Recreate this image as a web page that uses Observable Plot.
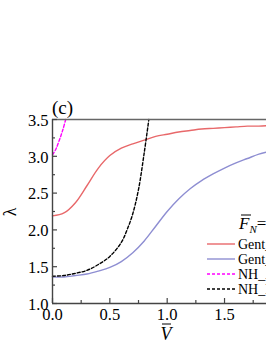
<!DOCTYPE html>
<html><head><meta charset="utf-8">
<script src="https://cdn.jsdelivr.net/npm/d3@7"></script>
<script src="https://cdn.jsdelivr.net/npm/@observablehq/plot@0.6"></script>
<style>
html,body{margin:0;padding:0;overflow:hidden;background:#fff;}
#chart{width:266px;height:344px;overflow:hidden;position:relative;}
</style>
</head><body><div id="chart"></div>
<script>
// Data
const gentAV = [0, 0.1, 0.2, 0.3, 0.4, 0.5, 0.6, 0.7, 0.8, 0.9, 1.0, 1.1, 1.2, 1.3, 1.4, 1.5, 1.6, 1.7, 1.8, 1.9];
const gentAL = [2.19, 2.23, 2.37, 2.60, 2.84, 3.01, 3.11, 3.17, 3.22, 3.27, 3.30, 3.33, 3.35, 3.37, 3.38, 3.39, 3.40, 3.41, 3.41, 3.42];
const gentBV = [0, 0.1, 0.2, 0.3, 0.4, 0.5, 0.6, 0.7, 0.8, 0.9, 1.0, 1.1, 1.2, 1.3, 1.4, 1.5, 1.6, 1.7, 1.8, 1.9];
const gentBL = [1.36, 1.36, 1.38, 1.40, 1.44, 1.49, 1.57, 1.69, 1.85, 2.05, 2.25, 2.42, 2.56, 2.67, 2.76, 2.84, 2.91, 2.97, 3.03, 3.07];
const nhAV = [0, 0.03, 0.06, 0.09, 0.115];
const nhAL = [3.02, 3.10, 3.22, 3.36, 3.5];
const nhBV = [0, 0.1, 0.2, 0.3, 0.4, 0.5, 0.6, 0.65, 0.7, 0.75, 0.8, 0.84];
const nhBL = [1.37, 1.38, 1.41, 1.45, 1.53, 1.64, 1.83, 2.0, 2.22, 2.55, 3.05, 3.5];
const seriesNames = ["Gent_", "Gent_", "NH_A", "NH_B"];
const seriesColors = ["#e8686a", "#8e8ed2", "#ff00ff", "#000000"];
const seriesDash = [null, null, "3,2", "3,2"];
const xMajor = [0, 0.5, 1.0, 1.5];
const xMinor = [0.25, 0.75, 1.25, 1.75];
const yMajor = [1.0, 1.5, 2.0, 2.5, 3.0, 3.5];
const yMinor = [1.25, 1.75, 2.25, 2.75, 3.25];

const mk = (xs, ys) => xs.map((x, i) => ({x, y: ys[i]}));
const series = [mk(gentAV, gentAL), mk(gentBV, gentBL), mk(nhAV, nhAL), mk(nhBV, nhBL)];

const W = 266, H = 344, mL = 52, mT = 119, mB = 41, mR = 0;
const fw = W - mL - mR, fh = H - mT - mB;
const axisColor = "#444";
const font = "Liberation Serif";

const plot = Plot.plot({
  width: W, height: H,
  marginLeft: mL, marginTop: mT, marginBottom: mB, marginRight: mR,
  x: {domain: [0, 1.866], axis: null},
  y: {domain: [1, 3.5], axis: null},
  style: {fontFamily: font, fontSize: "16px", background: "white", color: "black"},
  marks: [
    ...series.map((s, i) => Plot.line(s, {x: "x", y: "y", stroke: seriesColors[i], strokeWidth: 1.4, strokeDasharray: seriesDash[i], curve: "catmull-rom"})),
    Plot.ruleY([3.5], {stroke: "#666", strokeWidth: 1.3}),
    Plot.ruleY([1], {stroke: axisColor, strokeWidth: 1.4}),
    Plot.ruleX([0], {stroke: axisColor, strokeWidth: 1.4}),
    Plot.tickX(xMajor, {x: d => d, insetTop: fh - 5, stroke: axisColor, strokeWidth: 1.2}),
    Plot.tickX(xMinor, {x: d => d, insetTop: fh - 3, stroke: axisColor, strokeWidth: 1.2}),
    Plot.tickY(yMajor, {y: d => d, insetRight: fw - 5, stroke: axisColor, strokeWidth: 1.2}),
    Plot.tickY(yMinor, {y: d => d, insetRight: fw - 3, stroke: axisColor, strokeWidth: 1.2}),
    Plot.text(xMajor, {x: d => d, frameAnchor: "bottom", dy: 5, text: d => d.toFixed(1), fontSize: 16.5, fontFamily: font, lineAnchor: "top"}),
    Plot.text(yMajor, {y: d => d, frameAnchor: "left", dx: -4, dy: 1, text: d => d.toFixed(1), fontSize: 16.5, fontFamily: font, textAnchor: "end"})
  ]
});
document.getElementById("chart").appendChild(plot);

const svg = d3.select(plot);
// panel label
svg.append("text").attr("x", 52).attr("y", 114).attr("text-anchor", "start")
  .attr("font-family", font).attr("font-size", 19).text("(c)");
// y label
svg.append("text").attr("transform", "translate(16,212) rotate(-90)").attr("text-anchor", "middle")
  .attr("font-family", font).attr("font-size", 18).text("λ");
// x label with overbar
svg.append("text").attr("x", 166).attr("y", 340).attr("text-anchor", "middle")
  .attr("font-family", font).attr("font-size", 18).attr("font-style", "italic").text("V");
svg.append("line").attr("x1", 162).attr("x2", 171).attr("y1", 324).attr("y2", 324).attr("stroke", "black").attr("stroke-width", 1);
// legend title with overbar
const lt = svg.append("text").attr("x", 239).attr("y", 229).attr("text-anchor", "start")
  .attr("font-family", font).attr("font-size", 17);
lt.append("tspan").attr("font-style", "italic").text("F");
lt.append("tspan").attr("font-style", "italic").attr("font-size", 11).attr("dy", 4).text("N");
lt.append("tspan").attr("dy", -4).text("=");
svg.append("line").attr("x1", 241).attr("x2", 251).attr("y1", 215).attr("y2", 215).attr("stroke", "black").attr("stroke-width", 1);
// legend rows
const rowY = [244, 259, 274, 289];
seriesNames.forEach((name, i) => {
  svg.append("line").attr("x1", 207).attr("x2", 235).attr("y1", rowY[i]).attr("y2", rowY[i])
    .attr("stroke", seriesColors[i]).attr("stroke-width", 1.4).attr("stroke-dasharray", seriesDash[i]);
  svg.append("text").attr("x", 238).attr("y", rowY[i] + 5).attr("text-anchor", "start")
    .attr("font-family", font).attr("font-size", 14).text(name);
});
</script></body></html>
